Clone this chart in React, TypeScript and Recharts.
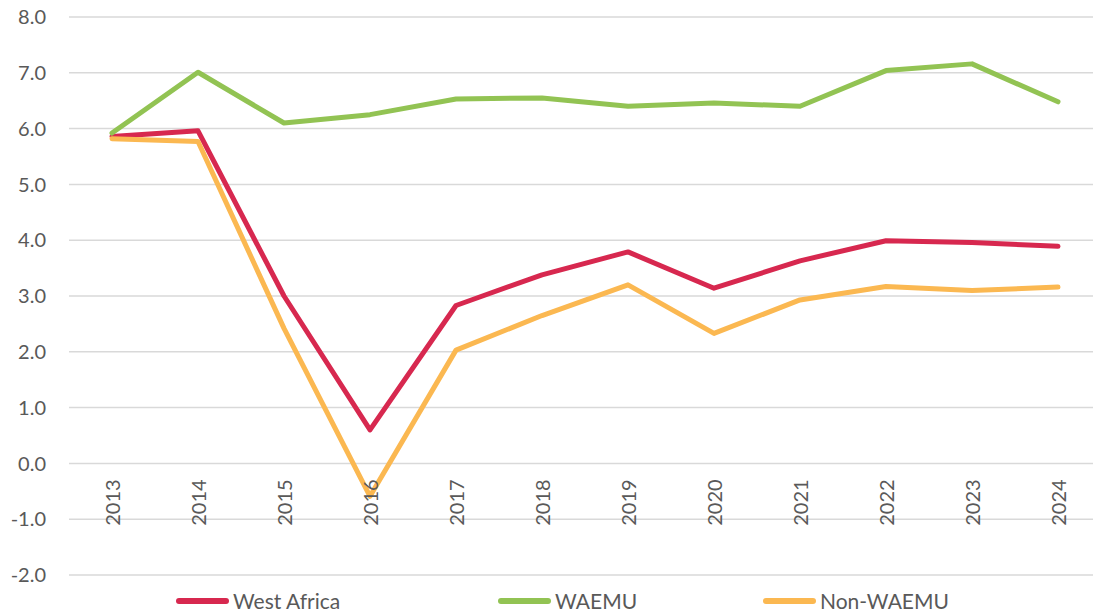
import React from 'react';
import { LineChart, Line, XAxis, YAxis, CartesianGrid, Legend } from 'recharts';

const years = ['2013', '2014', '2015', '2016', '2017', '2018', '2019', '2020', '2021', '2022', '2023', '2024'];
const westAfrica = [5.86, 5.96, 3.0, 0.6, 2.83, 3.38, 3.79, 3.14, 3.63, 3.99, 3.96, 3.89];
const waemu = [5.92, 7.01, 6.1, 6.25, 6.53, 6.55, 6.4, 6.46, 6.4, 7.04, 7.16, 6.48];
const nonWaemu = [5.82, 5.77, 2.42, -0.59, 2.03, 2.65, 3.2, 2.33, 2.93, 3.17, 3.1, 3.16];
const yTicks = [-2, -1, 0, 1, 2, 3, 4, 5, 6, 7, 8];

const seriesNames = ['West Africa', 'WAEMU', 'Non-WAEMU'];
const seriesColors = ['#D7284F', '#92C353', '#FBB851'];

const data = years.map((year, i) => ({
  year,
  westAfrica: westAfrica[i],
  waemu: waemu[i],
  nonWaemu: nonWaemu[i],
}));

const CHART_W = 1110;
const CHART_H = 612;
const LEGEND_H = 24;
const X_AXIS_H = 1;
const MARGIN = { top: 17, right: 9, left: 9, bottom: 12 };
const Y_MIN = yTicks[0];
const Y_MAX = yTicks[yTicks.length - 1];
const PLOT_H = CHART_H - MARGIN.top - MARGIN.bottom - LEGEND_H - X_AXIS_H;
const ZERO_Y = MARGIN.top + (PLOT_H * (Y_MAX - 0)) / (Y_MAX - Y_MIN);
const TEXT = '#595959';
const FONT = 'Lato, "Open Sans", sans-serif';

const XTick = (props: any) => {
  const { x, payload } = props;
  const y = ZERO_Y + 16;
  return (
    <text
      x={x}
      y={y}
      transform={`rotate(-90 ${x} ${y})`}
      textAnchor="end"
      dominantBaseline="central"
      fill={TEXT}
      fontSize={20}
      fontFamily={FONT}
    >
      {payload.value}
    </text>
  );
};

const legendLefts = [176, 498, 763];

const LegendContent = () => (
  <div style={{ position: 'relative', width: 1093, height: LEGEND_H, fontFamily: FONT }}>
    {seriesNames.map((name, i) => (
      <div
        key={name}
        style={{
          position: 'absolute',
          left: legendLefts[i],
          top: 0,
          height: LEGEND_H,
          display: 'flex',
          alignItems: 'center',
          whiteSpace: 'nowrap',
        }}
      >
        <span
          style={{
            display: 'inline-block',
            width: 53,
            height: 6,
            borderRadius: 3,
            background: seriesColors[i],
            marginRight: 4,
          }}
        />
        <span style={{ fontSize: 21, color: TEXT, lineHeight: '24px' }}>{name}</span>
      </div>
    ))}
  </div>
);

export default function App() {
  return (
    <div style={{ position: 'absolute', left: 0, top: 0, width: 1093, height: 612, overflow: 'hidden', background: '#fff' }}>
      <LineChart width={CHART_W} height={CHART_H} data={data} margin={MARGIN} style={{ fontFamily: FONT }}>
        <CartesianGrid vertical={false} stroke="#D9D9D9" strokeWidth={1.5} />
        <XAxis
          dataKey="year"
          height={X_AXIS_H}
          axisLine={false}
          tickLine={false}
          padding={{ left: 43, right: 43 }}
          tick={(p: any) => <XTick {...p} />}
          interval={0}
        />
        <YAxis
          width={60}
          domain={[Y_MIN, Y_MAX]}
          ticks={yTicks}
          axisLine={false}
          tickLine={false}
          tickSize={0}
          tickMargin={23}
          tickFormatter={(v: number) => v.toFixed(1)}
          tick={{ fill: TEXT, fontSize: 20, fontFamily: FONT }}
        />
        <Legend
          verticalAlign="bottom"
          content={<LegendContent />}
          wrapperStyle={{ position: 'absolute', left: 0, top: 589, width: 1093, height: LEGEND_H }}
        />
        <Line type="linear" dataKey="westAfrica" name={seriesNames[0]} stroke={seriesColors[0]} strokeWidth={5} dot={false} strokeLinecap="round" strokeLinejoin="round" isAnimationActive={false} />
        <Line type="linear" dataKey="waemu" name={seriesNames[1]} stroke={seriesColors[1]} strokeWidth={5} dot={false} strokeLinecap="round" strokeLinejoin="round" isAnimationActive={false} />
        <Line type="linear" dataKey="nonWaemu" name={seriesNames[2]} stroke={seriesColors[2]} strokeWidth={5} dot={false} strokeLinecap="round" strokeLinejoin="round" isAnimationActive={false} />
      </LineChart>
    </div>
  );
}
